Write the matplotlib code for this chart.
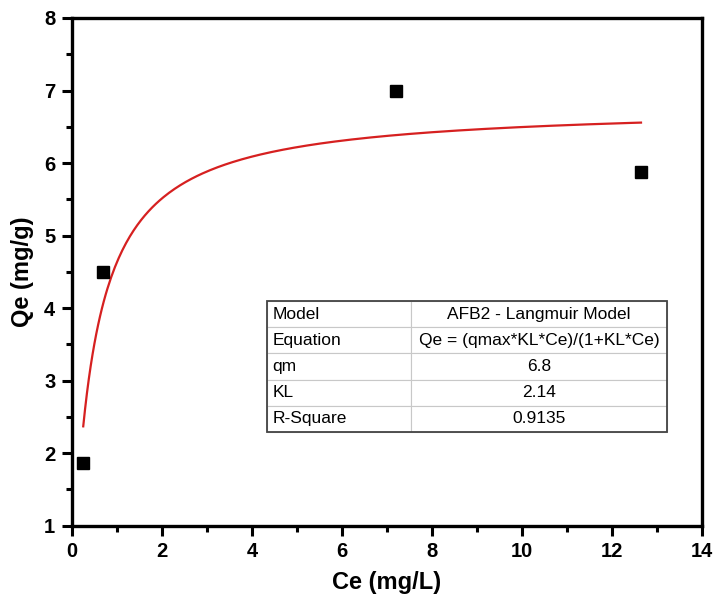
import matplotlib.pyplot as plt
import numpy as np
from matplotlib.ticker import MultipleLocator

plt.rcParams['font.family'] = ['Liberation Sans', 'DejaVu Sans']

# measured equilibrium data
ce = [0.25, 0.7, 7.2, 12.65]
qe = [1.87, 4.5, 7.0, 5.87]

# Langmuir fit parameters
qm = 6.8
kl = 2.14
r_square = 0.9135

row_labels = ["Model", "Equation", "qm", "KL", "R-Square"]
row_values = ["AFB2 - Langmuir Model", "Qe = (qmax*KL*Ce)/(1+KL*Ce)",
              str(qm), str(kl), str(r_square)]

fig = plt.figure(figsize=(7.17, 6.12), dpi=100)
ax = fig.add_axes([0.1004, 0.141, 0.8783, 0.8296])

x_fit = np.linspace(min(ce), max(ce), 300)
y_fit = qm * kl * x_fit / (1 + kl * x_fit)
ax.plot(x_fit, y_fit, color='#d62020', lw=1.6, zorder=2)
ax.plot(ce, qe, 's', color='black', ms=8, zorder=3)

ax.set_xlim(0, 14)
ax.set_ylim(1, 8)
ax.xaxis.set_major_locator(MultipleLocator(2))
ax.xaxis.set_minor_locator(MultipleLocator(1))
ax.yaxis.set_major_locator(MultipleLocator(1))
ax.yaxis.set_minor_locator(MultipleLocator(0.5))
ax.tick_params(which='both', direction='out', width=2.2)
ax.tick_params(which='major', length=7, labelsize=14.5, pad=5)
ax.tick_params(which='minor', length=4)
for lbl in ax.get_xticklabels() + ax.get_yticklabels():
    lbl.set_fontweight('bold')
for s in ax.spines.values():
    s.set_linewidth(2.4)

ax.set_xlabel("Ce (mg/L)", fontsize=17, fontweight='bold', labelpad=7)
ax.set_ylabel("Qe (mg/g)", fontsize=17, fontweight='bold', labelpad=7)

# parameter table
cells = [[a, b] for a, b in zip(row_labels, row_values)]
tbl = ax.table(cellText=cells, bbox=[0.31, 0.1846, 0.635, 0.258],
               colWidths=[0.36, 0.64], zorder=4)
tbl.auto_set_font_size(False)
tbl.set_fontsize(12.5)
for (r, c), cell in tbl.get_celld().items():
    cell.set_edgecolor('#c8c8c8')
    cell.set_linewidth(0.8)
    cell.set_facecolor('white')
    cell.get_text().set_color('black')
    if c == 0:
        cell.get_text().set_ha('left')
        cell.PAD = 0.035
    else:
        cell.get_text().set_ha('center')
        cell._loc = 'center'

# darker outer frame around the table
ax.add_patch(plt.Rectangle((0.31, 0.1846), 0.635, 0.258, transform=ax.transAxes,
                           fill=False, edgecolor='#444444', lw=1.3, zorder=5))

fig.savefig("out.png", dpi=100)
